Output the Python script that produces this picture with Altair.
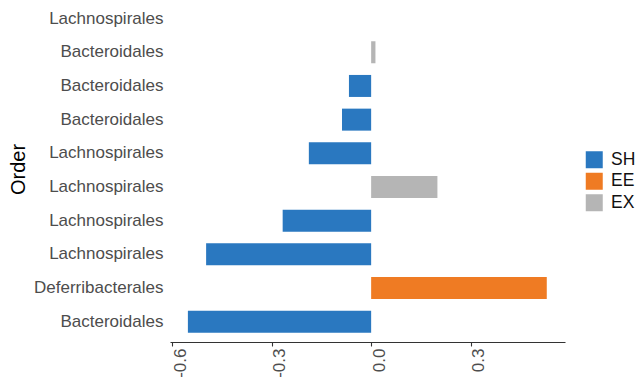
import json
import altair as alt
import pandas as pd

# Rows listed top to bottom
orders = [
    "Lachnospirales",
    "Bacteroidales",
    "Bacteroidales",
    "Bacteroidales",
    "Lachnospirales",
    "Lachnospirales",
    "Lachnospirales",
    "Lachnospirales",
    "Deferribacterales",
    "Bacteroidales",
]
values = [0.0, 0.013, -0.067, -0.088, -0.188, 0.200, -0.267, -0.498, 0.530, -0.553]
groups = ["SH", "EX", "SH", "SH", "SH", "EX", "SH", "SH", "EE", "SH"]

group_names = ["SH", "EE", "EX"]
group_colors = ["#2A78C0", "#EF7B23", "#B5B5B5"]
x_ticks = [-0.6, -0.3, 0.0, 0.3]

row_ids = [str(i) for i in range(len(orders))]
df = pd.DataFrame({"row": row_ids, "order": orders, "value": values, "group": groups})

y_label_expr = json.dumps(orders) + "[toNumber(datum.value)]"
x_label_expr = "replace(format(datum.value, '.1f'), '\u2212', '-')"

chart = (
    alt.Chart(df)
    .mark_bar()
    .encode(
        x=alt.X(
            "value:Q",
            scale=alt.Scale(domain=[-0.607, 0.585], nice=False, zero=False),
            axis=alt.Axis(
                title=None,
                values=x_ticks,
                labelExpr=x_label_expr,
                labelAngle=270,
                labelAlign="right",
                labelBaseline="top",
                labelFontSize=17,
                labelColor="#4D4D4D",
                labelPadding=2,
                tickSize=4,
                tickColor="#333333",
                tickWidth=1.1,
                domainColor="#333333",
                domainWidth=1.1,
                grid=False,
            ),
        ),
        y=alt.Y(
            "row:N",
            sort=row_ids,
            scale=alt.Scale(domain=row_ids, paddingInner=0.347, paddingOuter=0.25, align=0.45),
            axis=alt.Axis(
                title="Order",
                labelExpr=y_label_expr,
                labelFontSize=17,
                labelColor="#4D4D4D",
                labelPadding=7,
                ticks=False,
                domain=False,
                grid=False,
                titleFontSize=20,
                titleFontWeight="normal",
                titleColor="#000000",
                titleAngle=270,
                titleAlign="center",
                titleBaseline="middle",
                titleX=-152,
                titleY=169,
            ),
        ),
        color=alt.Color(
            "group:N",
            scale=alt.Scale(domain=group_names, range=group_colors),
            legend=alt.Legend(
                title=None,
                orient="none",
                legendX=415.5,
                legendY=151,
                symbolType="square",
                symbolSize=289,
                symbolStrokeWidth=0,
                symbolOpacity=1,
                labelFontSize=17.5,
                labelColor="#111111",
                labelOffset=8,
                rowPadding=2.5,
                padding=0,
            ),
        ),
    )
    .properties(
        width=395,
        height=342,
        autosize=alt.AutoSizeParams(type="none"),
        padding={"left": 170, "top": 0, "right": 70, "bottom": 35},
    )
    .configure(font="Liberation Sans")
    .configure_view(stroke=None)
)

chart.save("out.html", embed_options={"renderer": "svg", "actions": False})
